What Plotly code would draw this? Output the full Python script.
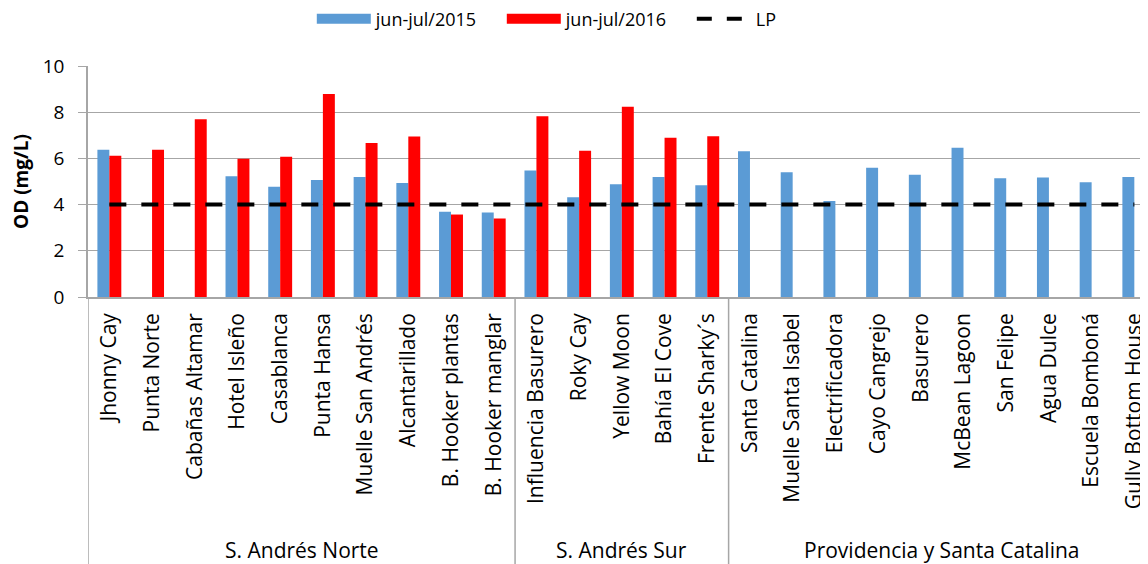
import plotly.graph_objects as go

groups = ["S. Andrés Norte"] * 10 + ["S. Andrés Sur"] * 5 + ["Providencia y Santa Catalina"] * 10
sites = ["Jhonny Cay", "Punta Norte", "Cabañas Altamar", "Hotel Isleño", "Casablanca",
         "Punta Hansa", "Muelle San Andrés", "Alcantarillado", "B. Hooker plantas", "B. Hooker manglar",
         "Influencia Basurero", "Roky Cay", "Yellow Moon", "Bahía El Cove", "Frente Sharky´s",
         "Santa Catalina", "Muelle Santa Isabel", "Electrificadora", "Cayo Cangrejo", "Basurero",
         "McBean Lagoon", "San Felipe", "Agua Dulce", "Escuela Bomboná", "Gully Bottom House"]
od_2015 = [6.37, None, None, 5.23, 4.77, 5.06, 5.20, 4.94, 3.69, 3.66,
           5.48, 4.32, 4.88, 5.19, 4.84,
           6.31, 5.40, 4.16, 5.59, 5.29, 6.46, 5.14, 5.17, 4.97, 5.19]
od_2016 = [6.11, 6.37, 7.69, 5.99, 6.07, 8.79, 6.67, 6.95, 3.57, 3.40,
           7.82, 6.33, 8.24, 6.89, 6.96,
           None, None, None, None, None, None, None, None, None, None]
lp = [4] * len(sites)
y_ticks = [0, 2, 4, 6, 8, 10]

FONT = "Open Sans"
BLUE = "#5B9BD5"
RED = "#FF0000"
GRID = "#A6A6A6"

fig = go.Figure()
fig.add_trace(go.Bar(x=sites, y=od_2015, name="jun-jul/2015", marker_color=BLUE,
                     marker_line_width=0, showlegend=False))
fig.add_trace(go.Bar(x=sites, y=od_2016, name="jun-jul/2016", marker_color=RED,
                     marker_line_width=0, showlegend=False))
fig.add_trace(go.Scatter(x=sites, y=lp, name="LP", mode="lines", showlegend=False,
                         line=dict(color="black", width=4, dash="17px,15px")))
# legend entries (wide rectangles like the original)
fig.add_trace(go.Scatter(x=[None], y=[None], mode="lines", name="jun-jul/2015",
                         line=dict(color=BLUE, width=14)))
fig.add_trace(go.Scatter(x=[None], y=[None], mode="lines", name="jun-jul/2016",
                         line=dict(color=RED, width=14)))
fig.add_trace(go.Scatter(x=[None], y=[None], mode="lines", name="LP",
                         line=dict(color="black", width=4, dash="15px,15px")))

# group labels and dividers of the two-level category axis
PLOT_H = 231
BOTTOM = -267 / PLOT_H
bounds = [-0.5]
names = [groups[0]]
for i in range(1, len(groups)):
    if groups[i] != groups[i - 1]:
        bounds.append(i - 0.5)
        names.append(groups[i])
bounds.append(len(groups) - 0.5)

shapes = []
annotations = []
for b in bounds:
    shapes.append(dict(type="line", xref="x", yref="paper", x0=b, x1=b, y0=0, y1=BOTTOM,
                       line=dict(color=GRID, width=1.5)))
for k, nm in enumerate(names):
    annotations.append(dict(text=nm, xref="x", yref="paper", x=(bounds[k] + bounds[k + 1]) / 2,
                            y=(289 - 542) / PLOT_H, xanchor="center", yanchor="middle",
                            showarrow=False, font=dict(family=FONT, size=21)))

fig.update_layout(
    width=1140, height=556,
    margin=dict(l=80, r=0, t=58, b=267, autoexpand=False),
    plot_bgcolor="white", paper_bgcolor="white",
    barmode="group", bargap=0.44, bargroupgap=0,
    font=dict(family=FONT, size=19, color="black"),
    legend=dict(orientation="h", x=0.48, xanchor="center", y=1 + (58 - 11) / PLOT_H,
                yanchor="middle",
                font=dict(family=FONT, size=18), itemwidth=54, traceorder="normal",
                entrywidth=121, entrywidthmode="pixels"),
    showlegend=True,
    shapes=shapes,
    annotations=annotations,
)
fig.update_xaxes(
    type="category",
    range=[-0.5, 24.32],
    tickangle=-90,
    showline=True, linecolor=GRID, linewidth=1.5,
    ticks="outside", ticklen=6, tickcolor="rgba(0,0,0,0)",
    showgrid=False, automargin=False,
    tickfont=dict(family=FONT, size=21),
)
fig.update_yaxes(
    range=[0, 10], tickvals=y_ticks,
    showgrid=True, gridcolor=GRID, gridwidth=1,
    showline=True, linecolor=GRID, linewidth=1.5,
    ticks="outside", ticklen=8, tickcolor=GRID,
    ticklabelstandoff=10,
    zeroline=False, automargin=False,
    tickfont=dict(family=FONT, size=19),
    title=dict(text="<b>OD (mg/L)</b>", font=dict(family=FONT, size=19), standoff=10),
)

fig.write_html("out.html")
